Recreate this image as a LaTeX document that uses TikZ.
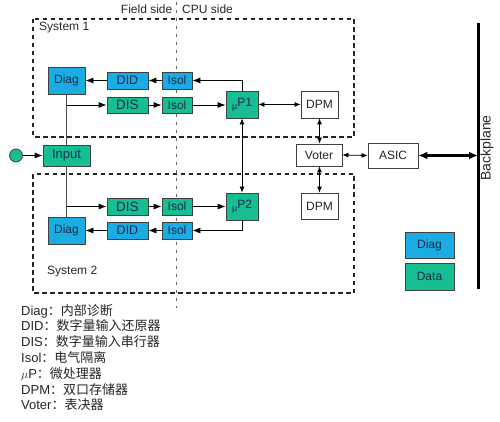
\documentclass[tikz,border=0pt]{standalone}
\usepackage{fontspec}
\setmainfont{Liberation Sans}
\newfontfamily\cjk{Noto Sans CJK SC}
\usetikzlibrary{arrows.meta}
\definecolor{dblue}{RGB}{28,172,228}
\definecolor{dgreen}{RGB}{22,190,145}
\definecolor{dtext}{RGB}{25,45,80}
\tikzset{
  box/.style={draw=black!75, line width=0.8pt, inner sep=0pt, font=\fontsize{12}{13}\selectfont, text=dtext},
  bluebox/.style={box, fill=dblue},
  greenbox/.style={box, fill=dgreen},
  whitebox/.style={box, fill=white, text=black!85},
  arr/.style={line width=0.8pt, -{Latex[length=8pt,width=6pt]}},
  darr/.style={line width=0.8pt, {Latex[length=6pt,width=5pt]}-{Latex[length=6pt,width=5pt]}},
  barr/.style={line width=2.2pt, {Latex[length=9pt,width=8pt]}-{Latex[length=9pt,width=8pt]}},
  plain/.style={line width=0.8pt, black!70},
  sysbox/.style={dash pattern=on 4.5pt off 3.5pt, line width=1.4pt, black!85},
  lbl/.style={font=\fontsize{12}{14}\selectfont, text=black!85, inner sep=0pt},
}
\begin{document}
\begin{tikzpicture}[x=1pt,y=-1pt]
\useasboundingbox (0,0) rectangle (500,422);
% side divider
\draw[black!60, line width=1pt, dash pattern=on 3pt off 5pt] (176,2) -- (176,308);
\node[lbl, anchor=east] (field) at (172.5,9) {Field side};
\node[lbl, anchor=west] (cpu) at (182,9) {CPU side};
% system boxes
\draw[sysbox] (33,19) rectangle (354,137);
\draw[sysbox] (33,174) rectangle (354,293);
\node[lbl, anchor=west] (s1) at (39,28) {System 1};
\node[lbl, anchor=west] (s2) at (47,272) {System 2};
% system 1
\node[bluebox, minimum width=37pt, minimum height=27pt] (diag1) at (66.5,80.5) {Diag};
\node[bluebox, minimum width=41pt, minimum height=17pt, font=\fontsize{12.5}{13}\selectfont] (did1) at (127.5,80.5) {DID};
\node[bluebox, minimum width=30pt, minimum height=17pt] (isol1b) at (177,80.5) {Isol};
\node[greenbox, minimum width=41pt, minimum height=16pt, font=\fontsize{13.5}{14}\selectfont] (dis1) at (127.5,105) {DIS};
\node[greenbox, minimum width=30pt, minimum height=16pt] (isol1g) at (177,105) {Isol};
\node[greenbox, minimum width=32pt, minimum height=27pt] (up1) at (242,104.5) {{\fontsize{9}{9}\selectfont μ}\raisebox{2.5pt}{P1}};
\node[whitebox, minimum width=37pt, minimum height=27pt] (dpm1) at (319.5,104.5) {DPM};
% middle
\node[whitebox, minimum width=46pt, minimum height=22pt] (voter) at (319,155) {Voter};
\node[whitebox, minimum width=50pt, minimum height=25pt] (asic) at (393,155.5) {ASIC};
\node[greenbox, minimum width=47pt, minimum height=21pt, font=\fontsize{13}{14}\selectfont] (input) at (66.5,155.5) {Input};
\node[circle, draw=black!75, line width=0.8pt, fill=dgreen, minimum size=13pt, inner sep=0pt] (src) at (16,155.5) {};
% system 2
\node[greenbox, minimum width=41pt, minimum height=17pt, font=\fontsize{13.5}{14}\selectfont] (dis2) at (127.5,206.5) {DIS};
\node[greenbox, minimum width=30pt, minimum height=17pt] (isol2g) at (177,206.5) {Isol};
\node[bluebox, minimum width=37pt, minimum height=27pt] (diag2) at (66.5,230.5) {Diag};
\node[bluebox, minimum width=41pt, minimum height=17pt, font=\fontsize{12.5}{13}\selectfont] (did2) at (127.5,230.5) {DID};
\node[bluebox, minimum width=30pt, minimum height=17pt] (isol2b) at (177,230.5) {Isol};
\node[greenbox, minimum width=32pt, minimum height=27pt] (up2) at (242,206.5) {{\fontsize{9}{9}\selectfont μ}\raisebox{2.5pt}{P2}};
\node[whitebox, minimum width=37pt, minimum height=26pt] (dpm2) at (319.5,206) {DPM};
% legend boxes
\node[bluebox, minimum width=49pt, minimum height=26pt] (legdiag) at (429.5,245) {Diag};
\node[greenbox, minimum width=49pt, minimum height=27pt] (legdata) at (429.5,276.5) {Data};
% backplane
\coordinate (bptop) at (478,23);
\coordinate (bpbot) at (478,289);
\coordinate (bp) at (478,155.5);
\draw[line width=3pt] (bptop) -- (bpbot);
\node[lbl, rotate=90, font=\fontsize{14}{15}\selectfont] (bplabel) at (487,148) {Backplane};
% connectors system 1
\draw[arr] (up1.north) |- (isol1b.east);
\draw[arr] (isol1b.west) -- (did1.east);
\draw[arr] (did1.west) -- (diag1.east);
\draw[plain] (diag1.south) -- (input.north);
\coordinate (j1) at (diag1.south |- dis1.west);
\draw[arr] (j1) -- (dis1.west);
\draw[arr] (dis1.east) -- (isol1g.west);
\draw[arr] (isol1g.east) -- (up1.west |- isol1g.east);
\draw[darr] (up1.east) -- (dpm1.west);
\draw[darr] (dpm1.south) -- (voter.north -| dpm1.south);
\draw[darr] (voter.south -| dpm2.north) -- (dpm2.north);
\draw[darr] (up1.south) -- (up2.north);
\draw[darr] (voter.east) -- (asic.west);
\draw[barr] (asic.east) -- (bp);
\draw[arr] (src.east) -- (input.west);
% connectors system 2
\draw[plain] (input.south) -- (diag2.north);
\coordinate (j2) at (input.south |- dis2.west);
\draw[arr] (j2) -- (dis2.west);
\draw[arr] (dis2.east) -- (isol2g.west);
\draw[arr] (isol2g.east) -- (up2.west);
\draw[arr] (up2.south) |- (isol2b.east);
\draw[arr] (isol2b.west) -- (did2.east);
\draw[arr] (did2.west) -- (diag2.east);
% abbreviations
\node[lbl, anchor=north west, align=left, font=\fontsize{13}{15.8}\selectfont] (abbr) at (21,304) {%
Diag{\cjk ：内部诊断}\\
DID{\cjk ：数字量输入还原器}\\
DIS{\cjk ：数字量输入串行器}\\
Isol{\cjk ：电气隔离}\\
$\mu$P{\cjk ：微处理器}\\
DPM{\cjk ：双口存储器}\\
Voter{\cjk ：表决器}};
\end{tikzpicture}
\end{document}
